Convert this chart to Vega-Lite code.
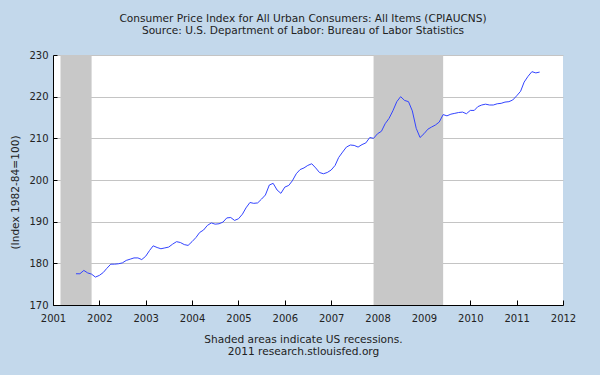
{
  "$schema": "https://vega.github.io/schema/vega-lite/v6.json",
  "autosize": {"type": "none"},
  "width": 510,
  "height": 250,
  "padding": {"left": 53, "top": 55, "right": 37, "bottom": 70},
  "background": "#C3D8EB",
  "title": {
    "text": ["Consumer Price Index for All Urban Consumers: All Items (CPIAUCNS)", "Source: U.S. Department of Labor: Bureau of Labor Statistics"],
    "font": "DejaVu Sans",
    "fontSize": 10.6,
    "fontWeight": "normal",
    "color": "#222222",
    "lineHeight": 12,
    "anchor": "middle",
    "frame": "group",
    "dx": -5,
    "offset": 13
  },
  "config": {
    "view": {"fill": "white", "stroke": null},
    "axis": {"labelFont": "DejaVu Sans", "labelFontSize": 10, "labelColor": "#222222", "titleFont": "DejaVu Sans", "titleFontSize": 10.6, "titleFontWeight": "normal", "titleColor": "#222222", "domainColor": "#000000", "tickColor": "#000000"}
  },
  "datasets": {
    "recessions": [
      {"start": "2001-03-01", "end": "2001-11-01"},
      {"start": "2007-12-01", "end": "2009-06-01"}
    ],
    "cpi": [
      {"date": "2001-07-01", "value": 177.5},
      {"date": "2001-08-01", "value": 177.5},
      {"date": "2001-09-01", "value": 178.3},
      {"date": "2001-10-01", "value": 177.7},
      {"date": "2001-11-01", "value": 177.4},
      {"date": "2001-12-01", "value": 176.7},
      {"date": "2002-01-01", "value": 177.1},
      {"date": "2002-02-01", "value": 177.8},
      {"date": "2002-03-01", "value": 178.8},
      {"date": "2002-04-01", "value": 179.8},
      {"date": "2002-05-01", "value": 179.8},
      {"date": "2002-06-01", "value": 179.9},
      {"date": "2002-07-01", "value": 180.1},
      {"date": "2002-08-01", "value": 180.7},
      {"date": "2002-09-01", "value": 181.0},
      {"date": "2002-10-01", "value": 181.3},
      {"date": "2002-11-01", "value": 181.3},
      {"date": "2002-12-01", "value": 180.9},
      {"date": "2003-01-01", "value": 181.7},
      {"date": "2003-02-01", "value": 183.1},
      {"date": "2003-03-01", "value": 184.2},
      {"date": "2003-04-01", "value": 183.8},
      {"date": "2003-05-01", "value": 183.5},
      {"date": "2003-06-01", "value": 183.7},
      {"date": "2003-07-01", "value": 183.9},
      {"date": "2003-08-01", "value": 184.6},
      {"date": "2003-09-01", "value": 185.2},
      {"date": "2003-10-01", "value": 185.0},
      {"date": "2003-11-01", "value": 184.5},
      {"date": "2003-12-01", "value": 184.3},
      {"date": "2004-01-01", "value": 185.2},
      {"date": "2004-02-01", "value": 186.2},
      {"date": "2004-03-01", "value": 187.4},
      {"date": "2004-04-01", "value": 188.0},
      {"date": "2004-05-01", "value": 189.1},
      {"date": "2004-06-01", "value": 189.7},
      {"date": "2004-07-01", "value": 189.4},
      {"date": "2004-08-01", "value": 189.5},
      {"date": "2004-09-01", "value": 189.9},
      {"date": "2004-10-01", "value": 190.9},
      {"date": "2004-11-01", "value": 191.0},
      {"date": "2004-12-01", "value": 190.3},
      {"date": "2005-01-01", "value": 190.7},
      {"date": "2005-02-01", "value": 191.8},
      {"date": "2005-03-01", "value": 193.3},
      {"date": "2005-04-01", "value": 194.6},
      {"date": "2005-05-01", "value": 194.4},
      {"date": "2005-06-01", "value": 194.5},
      {"date": "2005-07-01", "value": 195.4},
      {"date": "2005-08-01", "value": 196.4},
      {"date": "2005-09-01", "value": 198.8},
      {"date": "2005-10-01", "value": 199.2},
      {"date": "2005-11-01", "value": 197.6},
      {"date": "2005-12-01", "value": 196.8},
      {"date": "2006-01-01", "value": 198.3},
      {"date": "2006-02-01", "value": 198.7},
      {"date": "2006-03-01", "value": 199.8},
      {"date": "2006-04-01", "value": 201.5},
      {"date": "2006-05-01", "value": 202.5},
      {"date": "2006-06-01", "value": 202.9},
      {"date": "2006-07-01", "value": 203.5},
      {"date": "2006-08-01", "value": 203.9},
      {"date": "2006-09-01", "value": 202.9},
      {"date": "2006-10-01", "value": 201.8},
      {"date": "2006-11-01", "value": 201.5},
      {"date": "2006-12-01", "value": 201.8},
      {"date": "2007-01-01", "value": 202.4},
      {"date": "2007-02-01", "value": 203.5},
      {"date": "2007-03-01", "value": 205.4},
      {"date": "2007-04-01", "value": 206.7},
      {"date": "2007-05-01", "value": 207.9},
      {"date": "2007-06-01", "value": 208.4},
      {"date": "2007-07-01", "value": 208.3},
      {"date": "2007-08-01", "value": 207.9},
      {"date": "2007-09-01", "value": 208.5},
      {"date": "2007-10-01", "value": 208.9},
      {"date": "2007-11-01", "value": 210.2},
      {"date": "2007-12-01", "value": 210.0},
      {"date": "2008-01-01", "value": 211.1},
      {"date": "2008-02-01", "value": 211.7},
      {"date": "2008-03-01", "value": 213.5},
      {"date": "2008-04-01", "value": 214.8},
      {"date": "2008-05-01", "value": 216.6},
      {"date": "2008-06-01", "value": 218.8},
      {"date": "2008-07-01", "value": 220.0},
      {"date": "2008-08-01", "value": 219.1},
      {"date": "2008-09-01", "value": 218.8},
      {"date": "2008-10-01", "value": 216.6},
      {"date": "2008-11-01", "value": 212.4},
      {"date": "2008-12-01", "value": 210.2},
      {"date": "2009-01-01", "value": 211.1},
      {"date": "2009-02-01", "value": 212.2},
      {"date": "2009-03-01", "value": 212.7},
      {"date": "2009-04-01", "value": 213.2},
      {"date": "2009-05-01", "value": 213.9},
      {"date": "2009-06-01", "value": 215.7},
      {"date": "2009-07-01", "value": 215.4},
      {"date": "2009-08-01", "value": 215.8},
      {"date": "2009-09-01", "value": 216.0},
      {"date": "2009-10-01", "value": 216.2},
      {"date": "2009-11-01", "value": 216.3},
      {"date": "2009-12-01", "value": 215.9},
      {"date": "2010-01-01", "value": 216.7},
      {"date": "2010-02-01", "value": 216.7},
      {"date": "2010-03-01", "value": 217.6},
      {"date": "2010-04-01", "value": 218.0},
      {"date": "2010-05-01", "value": 218.2},
      {"date": "2010-06-01", "value": 218.0},
      {"date": "2010-07-01", "value": 218.0},
      {"date": "2010-08-01", "value": 218.3},
      {"date": "2010-09-01", "value": 218.4},
      {"date": "2010-10-01", "value": 218.7},
      {"date": "2010-11-01", "value": 218.8},
      {"date": "2010-12-01", "value": 219.2},
      {"date": "2011-01-01", "value": 220.2},
      {"date": "2011-02-01", "value": 221.3},
      {"date": "2011-03-01", "value": 223.5},
      {"date": "2011-04-01", "value": 224.9},
      {"date": "2011-05-01", "value": 226.0},
      {"date": "2011-06-01", "value": 225.7},
      {"date": "2011-07-01", "value": 225.9}
    ]
  },
  "layer": [
    {
      "data": {"name": "recessions"},
      "mark": {"type": "rect", "color": "#C8C8C8"},
      "encoding": {
        "x": {"field": "start", "type": "temporal"},
        "x2": {"field": "end"}
      }
    },
    {
      "data": {"name": "cpi"},
      "mark": {"type": "line", "color": "#3344FF", "strokeWidth": 1},
      "encoding": {
        "x": {
          "field": "date",
          "type": "temporal",
          "scale": {"domain": [{"year": 2001, "month": 1, "date": 1}, {"year": 2012, "month": 1, "date": 1}], "nice": false},
          "axis": {
            "title": ["Shaded areas indicate US recessions.", "2011 research.stlouisfed.org"],
            "titleLineHeight": 12,
            "titleX": 250,
            "titlePadding": 11,
            "format": "%Y",
            "tickCount": {"interval": "year", "step": 1},
            "labelAngle": 0,
            "labelPadding": 13,
            "tickSize": -5,
            "grid": false,
            "labelFlush": false,
            "labelOverlap": false
          }
        },
        "y": {
          "field": "value",
          "type": "quantitative",
          "scale": {"domain": [170, 230], "nice": false, "zero": false},
          "axis": {
            "title": "(Index 1982-84=100)",
            "titleX": -33,
            "titleY": 137,
            "values": [170, 180, 190, 200, 210, 220, 230],
            "tickSize": -4,
            "labelPadding": 9,
            "grid": true,
            "gridColor": "#C4C4C4",
            "gridWidth": 1.2
          }
        }
      }
    }
  ]
}
